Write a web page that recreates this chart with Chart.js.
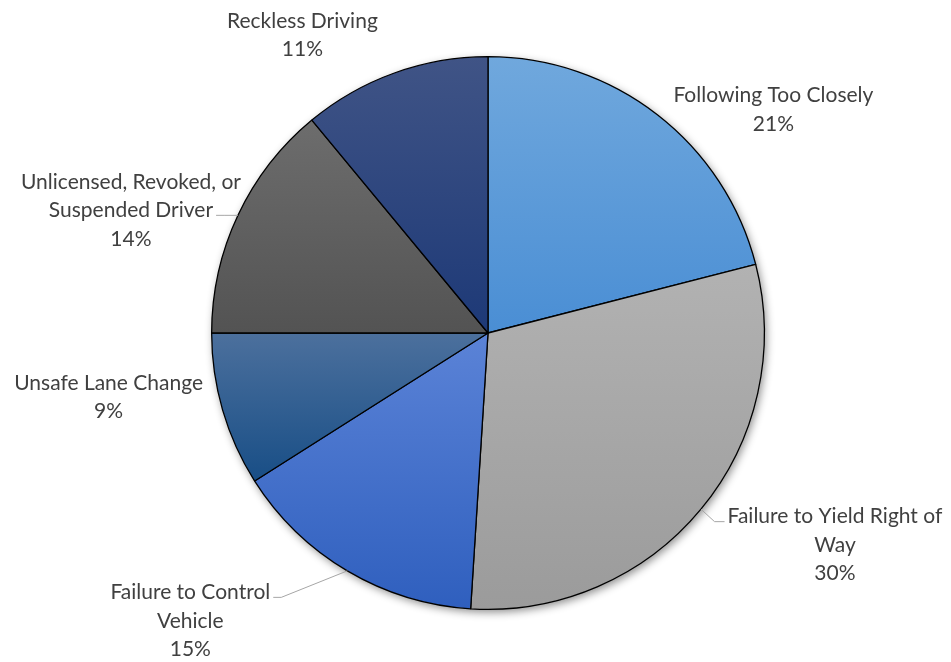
<!DOCTYPE html>
<html>
<head>
<meta charset="utf-8">
<script src="https://cdn.jsdelivr.net/npm/chart.js@4.4.1/dist/chart.umd.min.js"></script>
<style>
  html, body { margin: 0; padding: 0; background: #fff; }
  #wrap { width: 951px; height: 662px; position: relative; }
</style>
</head>
<body>
<div id="wrap"><canvas id="pie"></canvas></div>
<script>
// data, clockwise from 12 o'clock
const categories = [
  "Following Too Closely",
  "Failure to Yield Right of Way",
  "Failure to Control Vehicle",
  "Unsafe Lane Change",
  "Unlicensed, Revoked, or Suspended Driver",
  "Reckless Driving"
];
const shares = [21, 30, 15, 9, 14, 11];

// how each label wraps, as in the original
const labelLines = [
  ["Following Too Closely"],
  ["Failure to Yield Right of", "Way"],
  ["Failure to Control", "Vehicle"],
  ["Unsafe Lane Change"],
  ["Unlicensed, Revoked, or", "Suspended Driver"],
  ["Reckless Driving"]
];

// gradient fills, top -> bottom of each slice
const topColors = ["#70a8dd", "#b2b2b2", "#5b83d7", "#4c709d", "#6d6d6d", "#405486"];
const bottomColors = ["#4a8ed4", "#9b9b9b", "#2f5fbe", "#184e86", "#535353", "#1d3977"];

// label block offset from the slice's edge mid point, and leader line spec
const labelOffsets = [
  { dx: 116, dy: -5 },
  { dx: 134, dy: 36 },
  { dx: -157, dy: 50 },
  { dx: -114, dy: -13 },
  { dx: -107, dy: -5 },
  { dx: -92, dy: -38 }
];
const leaders = [null, { line: 0, side: "left" }, { line: 0, side: "right" }, null, { line: 1, side: "right" }, null];

const FONT = "21px Lato, 'Open Sans', sans-serif";
const LINE_H = 28.5;

function sliceGradient(context) {
  const chart = context.chart;
  const area = chart.chartArea;
  const i = context.dataIndex;
  if (!area || i === undefined) return topColors[i || 0];
  const cx = (area.left + area.right) / 2;
  const cy = (area.top + area.bottom) / 2;
  const r = Math.min(area.width, area.height) / 2;
  const total = shares.reduce((a, b) => a + b, 0);
  let before = 0;
  for (let k = 0; k < i; k++) before += shares[k];
  const a0 = -Math.PI / 2 + (before / total) * Math.PI * 2;
  const a1 = a0 + (shares[i] / total) * Math.PI * 2;
  // vertical extent of the slice
  const ys = [cy, cy + r * Math.sin(a0), cy + r * Math.sin(a1)];
  for (let t = -Math.PI / 2; t <= a1 + 1e-9; t += Math.PI) {
    if (t >= a0) ys.push(cy + r * Math.sin(t));
  }
  const y0 = Math.min(...ys), y1 = Math.max(...ys);
  const g = chart.ctx.createLinearGradient(0, y0, 0, y1);
  g.addColorStop(0, topColors[i]);
  g.addColorStop(1, bottomColors[i]);
  return g;
}

const shadowPlugin = {
  id: "pieShadow",
  beforeDatasetsDraw(chart) {
    const arc = chart.getDatasetMeta(0).data[0];
    if (!arc) return;
    const ctx = chart.ctx;
    ctx.save();
    ctx.shadowColor = "rgba(0,0,0,0.45)";
    ctx.shadowBlur = 8;
    ctx.shadowOffsetX = 2;
    ctx.shadowOffsetY = 3;
    ctx.fillStyle = "#fff";
    ctx.beginPath();
    ctx.arc(arc.x, arc.y, arc.outerRadius, 0, Math.PI * 2);
    ctx.fill();
    ctx.restore();
  }
};

const labelPlugin = {
  id: "outsideLabels",
  afterDatasetsDraw(chart) {
    const ctx = chart.ctx;
    const arcs = chart.getDatasetMeta(0).data;
    ctx.save();
    ctx.font = FONT;
    ctx.textAlign = "center";
    ctx.textBaseline = "middle";
    arcs.forEach((arc, i) => {
      const mid = (arc.startAngle + arc.endAngle) / 2;
      const ex = arc.x + Math.cos(mid) * arc.outerRadius;
      const ey = arc.y + Math.sin(mid) * arc.outerRadius;
      const lines = labelLines[i].concat([shares[i] + "%"]);
      const bx = ex + labelOffsets[i].dx;
      const by = ey + labelOffsets[i].dy;
      const firstY = by - (lines.length - 1) * LINE_H / 2;

      const ld = leaders[i];
      if (ld) {
        const w = ctx.measureText(lines[ld.line]).width;
        const ly = firstY + ld.line * LINE_H + 5;
        const tx = ld.side === "left" ? bx - w / 2 - 3 : bx + w / 2 + 3;
        const kx = ld.side === "left" ? tx - 10 : tx + 8;
        ctx.strokeStyle = "#a6a6a6";
        ctx.lineWidth = 1;
        ctx.beginPath();
        ctx.moveTo(ex, ey);
        ctx.lineTo(kx, ly);
        ctx.lineTo(tx, ly);
        ctx.stroke();
      }

      ctx.fillStyle = "#404040";
      lines.forEach((t, j) => ctx.fillText(t, bx, firstY + j * LINE_H));
    });
    ctx.restore();
  }
};

new Chart(document.getElementById("pie"), {
  type: "pie",
  data: {
    labels: categories,
    datasets: [{
      data: shares,
      backgroundColor: sliceGradient,
      borderColor: "#000",
      borderWidth: 1.3
    }]
  },
  options: {
    responsive: true,
    maintainAspectRatio: false,
    animation: false,
    events: [],
    layout: { padding: { left: 211, right: 186, top: 55, bottom: 51 } },
    plugins: {
      legend: { display: false },
      tooltip: { enabled: false }
    }
  },
  plugins: [shadowPlugin, labelPlugin]
});
</script>
</body>
</html>
